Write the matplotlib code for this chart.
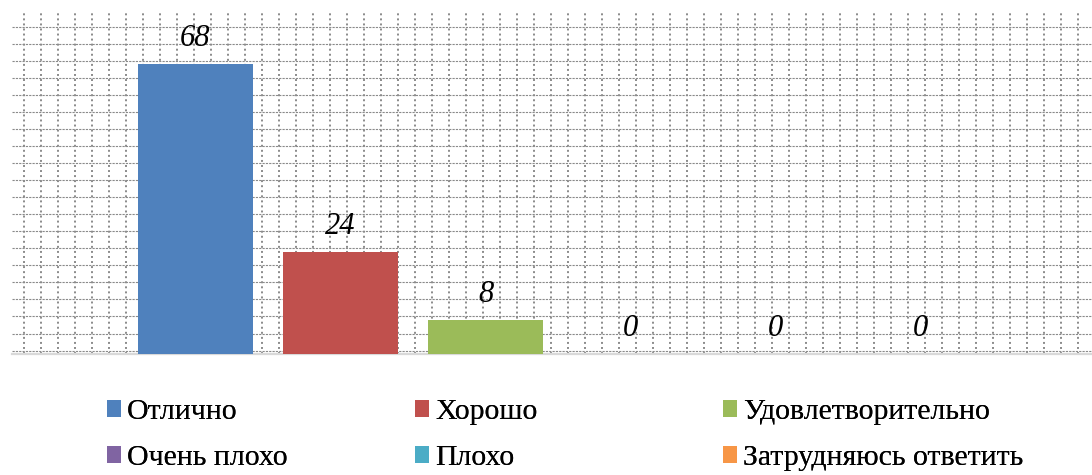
import numpy as np
import matplotlib.pyplot as plt

categories = ['Отлично', 'Хорошо', 'Удовлетворительно',
              'Очень плохо', 'Плохо', 'Затрудняюсь ответить']
values = [68, 24, 8, 0, 0, 0]
colors = ['#4F81BD', '#C0504D', '#9BBB59', '#8064A2', '#4BACC6', '#F79646']

W, H = 1092, 475
fig = plt.figure(figsize=(W / 100, H / 100), dpi=100)
ax = fig.add_axes([12 / W, (H - 354) / H, 1080 / W, 341 / H])

# pixel scale of the original: 145 px per category, bar centred at 195.5 px
px_per_unit = 145
x0 = (12 - 195.5) / px_per_unit
x1 = x0 + 1080 / px_per_unit
ax.set_xlim(x0, x1)
ax.set_ylim(0, 80)

# background grid (patterned fill in the original)
ax.set_xticks(np.arange(x0 + 12 / px_per_unit, x1, 17 / px_per_unit))
ax.set_yticks(np.arange(0.8, 80, 4))
ax.grid(axis='x', color='#8a8a8a', lw=1.4, ls=(0, (1.0, 1.6)), zorder=0)
ax.grid(axis='y', color='#8a8a8a', lw=0.8, ls=(0, (2, 1)), zorder=0)
ax.tick_params(length=0, labelbottom=False, labelleft=False)
ax.set_axisbelow(True)

for s in ['top', 'right', 'left']:
    ax.spines[s].set_visible(False)
ax.spines['bottom'].set_color('#d9d9d9')
ax.spines['bottom'].set_linewidth(1.6)

x = np.arange(len(categories))
bars = ax.bar(x, values, width=115 / px_per_unit, color=colors, zorder=3)

for xi, v in zip(x, values):
    ax.annotate(str(v), (xi, v), xytext=(0, 13), textcoords='offset points',
                ha='center', va='baseline', fontsize=22, style='italic',
                family='Liberation Serif', zorder=4)

# legend: three columns, two rows
col_x = [107, 415, 723]
for j in range(3):
    leg = fig.legend([bars[j], bars[j + 3]], [categories[j], categories[j + 3]],
                     loc='upper left', bbox_to_anchor=(col_x[j] / W, 1 - 399 / H),
                     frameon=False, prop={'family': 'Liberation Serif', 'size': 21.5},
                     handlelength=0.47, handleheight=0.47, handletextpad=0.2,
                     labelspacing=0.68, borderpad=0, borderaxespad=0)
    fig.add_artist(leg)

fig.savefig('out.png', dpi=100)
